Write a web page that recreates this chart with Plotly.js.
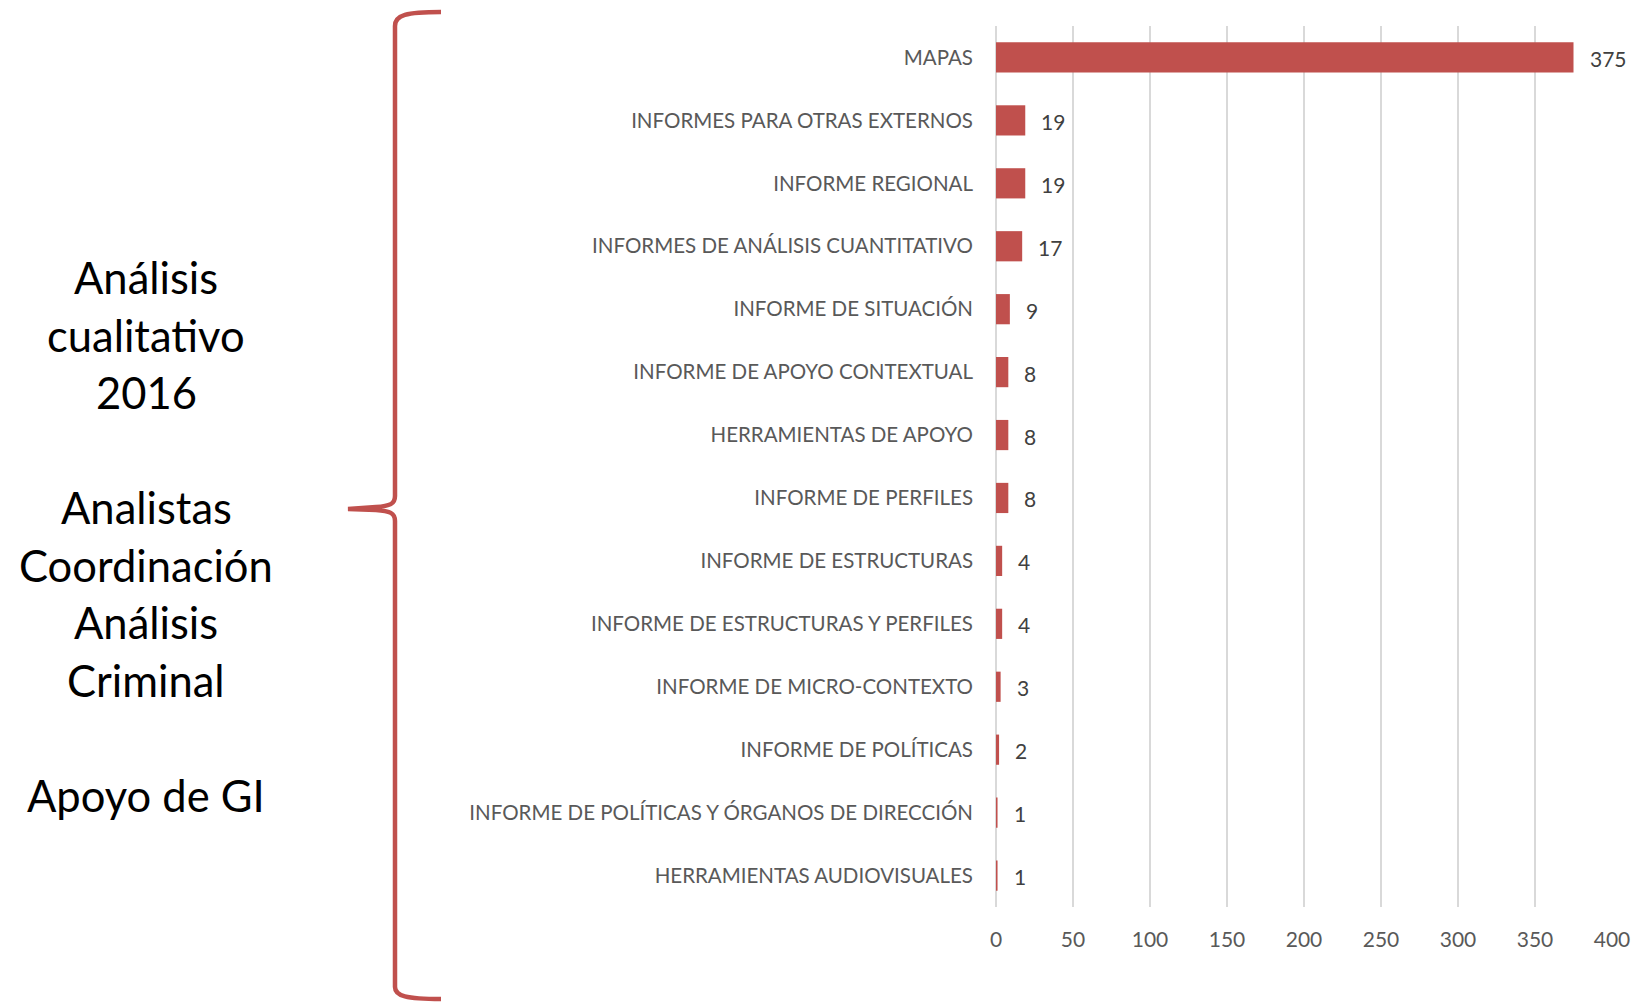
<!DOCTYPE html>
<html>
<head>
<meta charset="utf-8">
<script src="https://cdn.plot.ly/plotly-3.0.1.min.js"></script>
<style>html,body{margin:0;padding:0;background:#fff;}#chart{width:1639px;height:1002px;}</style>
</head>
<body>
<div id="chart"></div>
<script>
const categories = [
  "MAPAS",
  "INFORMES PARA OTRAS EXTERNOS",
  "INFORME REGIONAL",
  "INFORMES DE ANÁLISIS CUANTITATIVO",
  "INFORME DE SITUACIÓN",
  "INFORME DE APOYO CONTEXTUAL",
  "HERRAMIENTAS DE APOYO",
  "INFORME DE PERFILES",
  "INFORME DE ESTRUCTURAS",
  "INFORME DE ESTRUCTURAS Y PERFILES",
  "INFORME DE MICRO-CONTEXTO",
  "INFORME DE POLÍTICAS",
  "INFORME DE POLÍTICAS Y ÓRGANOS DE DIRECCIÓN",
  "HERRAMIENTAS AUDIOVISUALES"
];
const values = [375, 19, 19, 17, 9, 8, 8, 8, 4, 4, 3, 2, 1, 1];
const xTicks = [0, 50, 100, 150, 200, 250, 300, 350, 400];
const sideText = ["Análisis", "cualitativo", "2016", "", "Analistas", "Coordinación", "Análisis", "Criminal", "", "Apoyo de GI"];

const W = 1639, H = 1002;
const L = 996, R = 1612, T = 26, B = 907;
const pw = R - L, ph = B - T;
const px = x => (x - L) / pw;
const py = y => (B - y) / ph;
const P = (x, y) => px(x).toFixed(5) + "," + py(y).toFixed(5);

const FONT = "Lato, 'Open Sans', sans-serif";
const RED = "#C0504D";

const trace = {
  type: "bar",
  orientation: "h",
  y: categories,
  x: values,
  marker: {color: RED},
  width: 0.48,
  hoverinfo: "x+y"
};

const annotations = categories.map((c, i) => ({
  x: values[i], y: c, xref: "x", yref: "y",
  text: String(values[i]), showarrow: false,
  xanchor: "left", yanchor: "middle", xshift: 14, yshift: -1,
  font: {family: FONT, size: 21, color: "#404040"}
}));

const lineY0 = 277, lineStep = 57.5;
sideText.forEach((t, i) => {
  if (!t) return;
  annotations.push({
    x: px(146), y: py(lineY0 + i * lineStep), xref: "paper", yref: "paper",
    text: t, showarrow: false, xanchor: "center", yanchor: "middle",
    font: {family: FONT, size: 43.5, color: "#000000"}
  });
});

const bracePath =
  "M " + P(441, 12) +
  " C " + P(406, 12) + " " + P(395, 15) + " " + P(395, 26) +
  " L " + P(395, 496) +
  " C " + P(395, 504) + " " + P(390, 506) + " " + P(376, 507) +
  " L " + P(348, 509) +
  " L " + P(376, 510) +
  " C " + P(390, 511) + " " + P(395, 513) + " " + P(395, 521) +
  " L " + P(395, 987) +
  " C " + P(395, 996) + " " + P(406, 999) + " " + P(441, 999);

const layout = {
  width: W, height: H,
  margin: {l: L, r: W - R, t: T, b: H - B, pad: 0},
  paper_bgcolor: "#ffffff", plot_bgcolor: "#ffffff",
  showlegend: false,
  bargap: 0.52,
  xaxis: {
    range: [0, 400], tickvals: xTicks, ticktext: xTicks.map(String),
    showgrid: true, gridcolor: "#D9D9D9", gridwidth: 1.5,
    zeroline: true, zerolinecolor: "#D9D9D9", zerolinewidth: 1.5,
    showline: false, ticks: "", ticklabelstandoff: 18,
    tickfont: {family: FONT, size: 21, color: "#595959"},
    fixedrange: true
  },
  yaxis: {
    autorange: "reversed", type: "category",
    showgrid: false, zeroline: false, showline: false, ticks: "",
    ticklabelstandoff: 22,
    tickfont: {family: FONT, size: 20.5, color: "#595959"},
    fixedrange: true
  },
  shapes: [{
    type: "path", xref: "paper", yref: "paper", path: bracePath,
    line: {color: RED, width: 4.5}, fillcolor: "rgba(0,0,0,0)"
  }],
  annotations: annotations
};

Plotly.newPlot("chart", [trace], layout, {displayModeBar: false, staticPlot: true});
</script>
</body>
</html>
